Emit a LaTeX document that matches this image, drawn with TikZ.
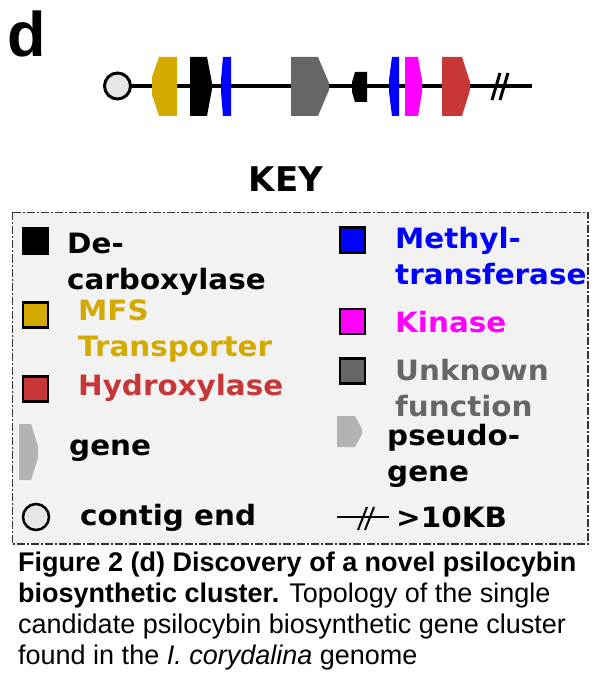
\documentclass[tikz,border=0pt]{standalone}
\usepackage{fontspec}
\setmainfont{Liberation Sans}
\newfontfamily\keyfont{DejaVu Sans}
\newfontfamily\keywidefont{DejaVu Sans}[FakeStretch=1.05]
\usetikzlibrary{positioning}
\definecolor{cGold}{HTML}{D4AA00}
\definecolor{cBlue}{HTML}{0000FF}
\definecolor{cGrey}{HTML}{666666}
\definecolor{cMagenta}{HTML}{FF00FF}
\definecolor{cRed}{HTML}{C83737}
\definecolor{cLight}{HTML}{B3B3B3}
\definecolor{cKeyBg}{HTML}{F2F2F2}
\definecolor{cEnd}{HTML}{E6E6E6}
\tikzset{
	track/.style   ={line width=4pt},
	breakmark/.style={line width=2.5pt},
	contig/.style  ={circle, draw=black, line width=3pt, fill=cEnd, minimum size=26pt, inner sep=0pt},
	keybox/.style  ={draw=black!80, line width=1.2pt, fill=cKeyBg, dash pattern=on 8pt off 2pt on 2pt off 2pt},
	keysq/.style   ={rectangle, draw=black, line width=2.5pt, minimum size=25pt, inner sep=0pt},
	keytxt/.style  ={anchor=north west, inner sep=0pt, align=left, font=\keywidefont\bfseries\fontsize{28}{36}\selectfont},
}
\begin{document}
\begin{tikzpicture}[x=1pt, y=-1pt]
	\useasboundingbox (0,0) rectangle (598,692);
	\node[anchor=base west, inner sep=0pt, font=\bfseries\fontsize{63}{63}\selectfont] (panel) at (7,57) {d};
	% gene cluster track
	\node[contig] (cend) at (117.5,86) {};
	\coordinate (trackend) at (532,86);
	\draw[track] (cend.east) -- (trackend);
	\fill[cGold] (159,57) -- (177,57) -- (177,116) -- (159,116) -- (152,95) -- (152,77) -- cycle;
	\fill[black] (190,57) -- (207,57) -- (212,83) -- (212,89) -- (207,116) -- (190,116) -- cycle;
	\fill[cBlue] (223,57) -- (231,57) -- (231,116) -- (223,116) -- (221,92) -- (221,80) -- cycle;
	\fill[cGrey] (291,57) -- (318,57) -- (329,83) -- (329,90) -- (318,116) -- (291,116) -- cycle;
	\fill[black] (355,72) -- (367,72) -- (367,102) -- (355,102) -- (352,92) -- (352,82) -- cycle;
	\fill[cBlue] (392,57) -- (399,57) -- (399,116) -- (392,116) -- (389,92) -- (389,80) -- cycle;
	\fill[cMagenta] (405,57) -- (418,57) -- (422,80) -- (422,92) -- (418,116) -- (405,116) -- cycle;
	\fill[cRed] (442,57) -- (462,57) -- (470,82) -- (470,90) -- (462,116) -- (442,116) -- cycle;
	\draw[breakmark, line width=3pt] (492,100) -- (500,73);
	\draw[breakmark, line width=3pt] (500,100) -- (508,73);
	% key
	\node[anchor=base, inner sep=0pt, font=\keyfont\bfseries\fontsize{34}{34}\selectfont] (keytitle) at (286,192) {KEY};
	\draw[keybox] (12.5,212.5) rectangle (588,544);
	\node[keysq, fill=black] (sqdecarb) at (35.5,241) {};
	\node[keytxt] (txtdecarb) at (67,227.8) {\strut De-\\carboxylase};
	\node[keysq, fill=cGold] (sqmfs) at (35.5,315) {};
	\node[keytxt, text=cGold] (txtmfs) at (78,294.8) {\strut MFS\\Transporter};
	\node[keysq, fill=cRed] (sqhydrox) at (35.5,389) {};
	\node[keytxt, text=cRed] (txthydrox) at (78,369.8) {\strut Hydroxylase};
	\fill[cLight] (19,424) -- (31,424) -- (38,446) -- (38,458) -- (31,480) -- (19,480) -- cycle;
	\node[keytxt] (txtgene) at (69,429.8) {\strut gene};
	\node[contig, line width=2.5pt] (keyend) at (36,517) {};
	\node[keytxt] (txtend) at (80,499.8) {\strut contig end};
	\node[keysq, fill=cBlue] (sqmethyl) at (352.5,240) {};
	\node[keytxt, text=cBlue] (txtmethyl) at (395,222.8) {\strut Methyl-\\transferase};
	\node[keysq, fill=cMagenta] (sqkinase) at (352.5,321.5) {};
	\node[keytxt, text=cMagenta] (txtkinase) at (395,306.8) {\strut Kinase};
	\node[keysq, fill=cGrey] (squnknown) at (352.5,371) {};
	\node[keytxt, text=cGrey] (txtunknown) at (395,354.8) {\strut Unknown\\function};
	\fill[cLight] (337,416) -- (355,416) -- (362,429) -- (362,434) -- (355,447) -- (337,447) -- cycle;
	\node[keytxt] (txtpseudo) at (387,419.8) {\strut pseudo-\\gene};
	\coordinate (kbreakl) at (337,517);
	\coordinate (kbreakr) at (389,517);
	\draw[breakmark, line width=2pt] (kbreakl) -- (kbreakr);
	\draw[breakmark, line width=2pt] (358,530) -- (367,507);
	\draw[breakmark, line width=2pt] (365,530) -- (374,507);
	\node[keytxt] (txtbreak) at (396,501.8) {\strut >10KB};
	% caption
	\node[anchor=north west, inner sep=0pt, align=left, font=\fontsize{27}{31}\selectfont] (caption) at (18,549.3)
		{\strut\textbf{Figure 2 (d) Discovery of a novel psilocybin}\\
		\textbf{biosynthetic cluster.} Topology of the single\\
		candidate psilocybin biosynthetic gene cluster\\
		found in the \textit{I. corydalina} genome};
\end{tikzpicture}
\end{document}
